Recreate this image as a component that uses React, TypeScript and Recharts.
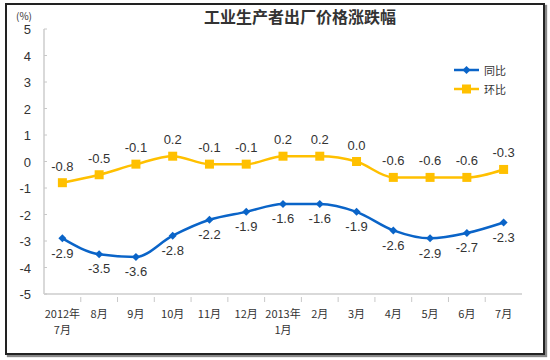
import React from 'react';
import { LineChart, Line, XAxis, YAxis, LabelList } from 'recharts';

const months = ['2012年\n7月', '8月', '9月', '10月', '11月', '12月', '2013年\n1月', '2月', '3月', '4月', '5月', '6月', '7月'];
const yoy = [-2.9, -3.5, -3.6, -2.8, -2.2, -1.9, -1.6, -1.6, -1.9, -2.6, -2.9, -2.7, -2.3];
const mom = [-0.8, -0.5, -0.1, 0.2, -0.1, -0.1, 0.2, 0.2, 0.0, -0.6, -0.6, -0.6, -0.3];
const yTicks = [-5, -4, -3, -2, -1, 0, 1, 2, 3, 4, 5];
const seriesNames = { yoy: '同比', mom: '环比' };

const data = months.map((m, i) => ({ month: m, yoy: yoy[i], mom: mom[i] }));

const BLUE = '#0a64c8';
const YELLOW = '#ffc000';
const FONT = 'Arial, "Liberation Sans", "Noto Sans CJK SC", sans-serif';
const CJK = '"Noto Sans CJK SC", sans-serif';

const W = 550;
const H = 360;
const M = { top: 29, right: 28, left: 0, bottom: 0 };
const YW = 44;
const XH = 66;
const band = (W - M.left - YW - M.right) / months.length;

const Diamond = (props: any) => {
  const { cx, cy } = props;
  if (cx == null || cy == null) return null;
  const r = 4;
  return <path d={`M${cx},${cy - r}L${cx + r},${cy}L${cx},${cy + r}L${cx - r},${cy}Z`} fill={BLUE} />;
};
const Square = (props: any) => {
  const { cx, cy } = props;
  if (cx == null || cy == null) return null;
  const s = 9;
  return <rect x={cx - s / 2} y={cy - s / 2} width={s} height={s} fill={YELLOW} />;
};

const XTick = (props: any) => {
  const { x, y, payload, index } = props;
  const lines = String(payload.value).split('\n');
  const axisY = y;
  return (
    <g>
      {index < months.length - 1 && (
        <line x1={x + band / 2} x2={x + band / 2} y1={axisY} y2={axisY - 5} stroke="#c8c8c8" strokeWidth={1} />
      )}
      {lines.map((l, i) => (
        <text key={i} x={x} y={axisY + 16 + i * 16} textAnchor="middle" fontSize={11} fill="#333" fontFamily={CJK}>{l}</text>
      ))}
    </g>
  );
};

const YTick = (props: any) => {
  const { y, payload } = props;
  return (
    <g>
      <line x1={YW} x2={YW + 3} y1={y} y2={y} stroke="#c8c8c8" />
      <text x={31} y={y + 5} textAnchor="end" fontSize={13} fill="#333" fontFamily={FONT}>{payload.value}</text>
    </g>
  );
};

const LegendBox = () => (
  <div style={{ position: 'absolute', left: 454, top: 60, fontFamily: CJK, fontSize: 11, color: '#333' }}>
    {[
      { name: seriesNames.yoy, color: BLUE, shape: 'd' },
      { name: seriesNames.mom, color: YELLOW, shape: 's' },
    ].map((it, i) => (
      <div key={i} style={{ display: 'flex', alignItems: 'center', height: 19 }}>
        <svg width={26} height={12}>
          <line x1={0} x2={25} y1={6} y2={6} stroke={it.color} strokeWidth={2.5} />
          {it.shape === 'd' ? (
            <path d="M12.5,2L16.5,6L12.5,10L8.5,6Z" fill={it.color} />
          ) : (
            <rect x={8} y={1.5} width={9} height={9} fill={it.color} />
          )}
        </svg>
        <span style={{ marginLeft: 4 }}>{it.name}</span>
      </div>
    ))}
  </div>
);

export default function App() {
  return (
    <div style={{ position: 'absolute', left: 0, top: 0, width: W, height: H, background: '#fff' }}>
      <div
        style={{
          position: 'absolute', left: 5, top: 3, width: 536, height: 348,
          border: '2px solid #222', boxShadow: '2px 2px 1px #888', boxSizing: 'content-box',
        }}
      />
      <div style={{ position: 'absolute', left: 16, top: 8, fontSize: 10, fontFamily: CJK, color: '#333' }}>(%)</div>
      <div style={{ position: 'absolute', left: 0, width: 600, top: 4, textAlign: 'center', fontSize: 16, fontWeight: 'bold', fontFamily: CJK, color: '#333' }}>
        工业生产者出厂价格涨跌幅
      </div>
      <div style={{ position: 'absolute', left: 0, top: 0 }}>
        <LineChart width={W} height={H} data={data} margin={M}>
          <XAxis dataKey="month" xAxisId="top" orientation="top" height={0} tick={false} tickLine={false} axisLine={{ stroke: '#d9d9d9', strokeWidth: 2 }} />
          <XAxis dataKey="month" height={XH} padding={{ left: band / 2, right: band / 2 }} tickLine={false} axisLine={{ stroke: '#d9d9d9', strokeWidth: 2 }} tick={<XTick />} interval={0} />
          <YAxis yAxisId="left" width={YW} domain={[-5, 5]} ticks={yTicks} tickLine={false} axisLine={{ stroke: '#d9d9d9', strokeWidth: 2 }} tick={<YTick />} />
          <YAxis yAxisId="right" orientation="right" width={0} domain={[-5, 5]} tick={false} tickLine={false} axisLine={{ stroke: '#d9d9d9', strokeWidth: 2 }} />
          <Line yAxisId="left" xAxisId={0} type="monotone" dataKey="yoy" name={seriesNames.yoy} stroke={BLUE} strokeWidth={2.5} dot={<Diamond />} isAnimationActive={false}>
            <LabelList dataKey="yoy" position="bottom" offset={10} fontSize={13} fill="#333" fontFamily={FONT} formatter={(v: any) => Number(v).toFixed(1)} />
          </Line>
          <Line yAxisId="left" xAxisId={0} type="monotone" dataKey="mom" name={seriesNames.mom} stroke={YELLOW} strokeWidth={2.5} dot={<Square />} isAnimationActive={false}>
            <LabelList dataKey="mom" position="top" offset={12} fontSize={13} fill="#333" fontFamily={FONT} formatter={(v: any) => Number(v).toFixed(1)} />
          </Line>
        </LineChart>
      </div>
      <LegendBox />
    </div>
  );
}
